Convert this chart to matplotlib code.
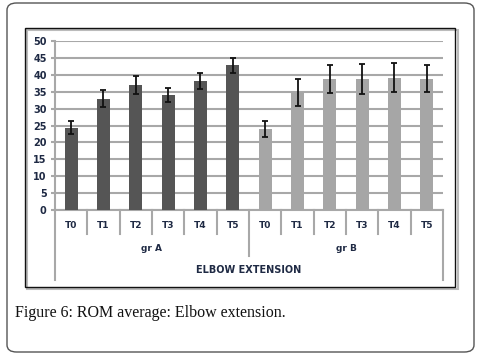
import numpy as np
import matplotlib
matplotlib.use('Agg')
import matplotlib.pyplot as plt
from matplotlib.patches import FancyBboxPatch, Rectangle

times = ['T0', 'T1', 'T2', 'T3', 'T4', 'T5']
groups = ['gr A', 'gr B']
means_a = [24.4, 32.9, 36.9, 34.1, 38.2, 42.8]
err_a = [2.0, 2.5, 2.7, 2.0, 2.3, 2.2]
means_b = [24.0, 34.8, 38.8, 38.8, 39.2, 38.8]
err_b = [2.4, 4.1, 4.1, 4.4, 4.3, 4.0]
title_text = 'ELBOW EXTENSION'
caption = 'Figure 6: ROM average: Elbow extension.'

W, H = 481, 355
LABEL = '#1f2a44'
fig = plt.figure(figsize=(W / 100, H / 100), dpi=100)

# outer rounded frame and chart box (behind the axes)
fig.patches.append(FancyBboxPatch((7 / W, 3 / H), 467 / W, 349 / H,
                                  boxstyle='round,pad=0,rounding_size=0.02',
                                  transform=fig.transFigure, fill=False,
                                  edgecolor='#555555', lw=1.0, zorder=-2))
fig.patches.append(Rectangle((27 / W, 66 / H), 431 / W, 259 / H, transform=fig.transFigure,
                             fill=False, edgecolor='#bbbbbb', lw=1.5, zorder=-2))
fig.patches.append(Rectangle((25 / W, 68 / H), 430 / W, 259 / H, transform=fig.transFigure,
                             fill=False, edgecolor='#111111', lw=1.0, zorder=-1))

ax = fig.add_axes([55 / W, 1 - 210 / H, 388 / W, 169 / H])
ax.patch.set_visible(False)
n = len(times)
x_a = np.arange(n)
x_b = np.arange(n) + n
ax.bar(x_a, means_a, width=0.4, color='#555555', zorder=3)
ax.bar(x_b, means_b, width=0.4, color='#a6a6a6', zorder=3)
ax.errorbar(x_a, means_a, yerr=err_a, fmt='none', ecolor='#111111',
            elinewidth=1.3, capsize=2.5, capthick=1.3, zorder=4)
ax.errorbar(x_b, means_b, yerr=err_b, fmt='none', ecolor='#111111',
            elinewidth=1.3, capsize=2.5, capthick=1.3, zorder=4)

ax.set_xlim(-0.5, 2 * n - 0.5)
ax.set_ylim(0, 50)
ax.set_yticks(np.arange(0, 51, 5))
ax.yaxis.grid(True, color='#a8a8a8', lw=1.5, zorder=0)
ax.set_axisbelow(True)
for s in ['top', 'right']:
    ax.spines[s].set_visible(False)
for s in ['left', 'bottom']:
    ax.spines[s].set_color('#a8a8a8')
    ax.spines[s].set_linewidth(1.5)
ax.tick_params(axis='y', length=3, color='#a8a8a8', width=1.5, pad=3,
               labelsize=7, labelcolor=LABEL)
for t in ax.get_yticklabels():
    t.set_fontweight('bold')
ax.set_xticks([])

# category labels and separators below the axis
trans = ax.get_xaxis_transform()
for i, lab in enumerate(times + times):
    ax.text(i, -0.09, lab, transform=trans, ha='center', va='center',
            fontsize=6.5, fontweight='bold', color=LABEL)
for b in range(1, 2 * n):
    depth = -0.27 if b == n else -0.14
    ax.plot([b - 0.5, b - 0.5], [0, depth], transform=trans, clip_on=False,
            color='#a8a8a8', lw=1.5)
for b in [-0.5, 2 * n - 0.5]:
    ax.plot([b, b], [0, -0.415], transform=trans, clip_on=False,
            color='#a8a8a8', lw=1.5)
for g, lab in enumerate(groups):
    ax.text(g * n + (n - 1) / 2, -0.23, lab, transform=trans, ha='center',
            va='center', fontsize=6.5, fontweight='bold', color=LABEL)
ax.text((2 * n - 1) / 2, -0.355, title_text, transform=trans, ha='center',
        va='center', fontsize=7, fontweight='bold', color=LABEL)

fig.text(15 / W, 1 - 313 / H, caption, ha='left', va='center',
         fontsize=11.5, family='Liberation Serif', color='#111111')

fig.savefig('out.png', dpi=100)
